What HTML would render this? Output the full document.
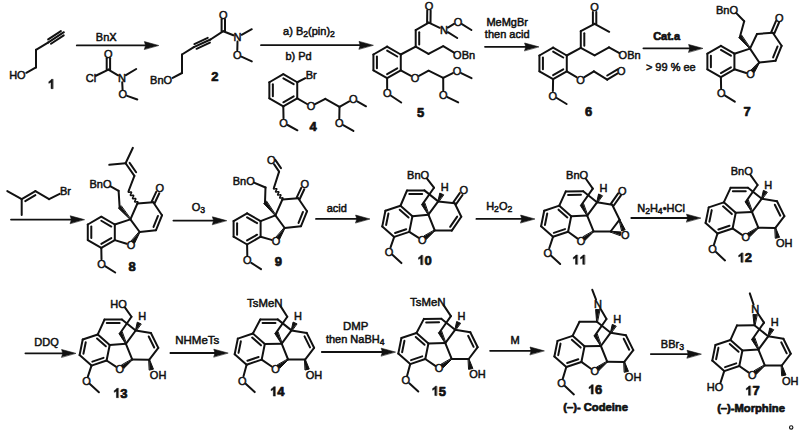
<!DOCTYPE html>
<html><head><meta charset="utf-8"><style>
html,body{margin:0;padding:0;background:#fff;}
svg{display:block;}
text{font-family:"Liberation Sans",sans-serif;fill:#111;stroke:#111;stroke-width:0.5px;}
text.b{stroke-width:0.7px;}
</style></head><body>
<svg width="800" height="438" viewBox="0 0 800 438">
<rect width="800" height="438" fill="#fff"/>
<g stroke="#111" fill="#111" stroke-linecap="round" stroke-linejoin="round">
<text x="17.4" y="78.94" font-size="11" text-anchor="middle">HO</text>
<line x1="26.32" y1="72.77" x2="36" y2="67.4" stroke-width="2.0"/>
<line x1="36" y1="67.4" x2="36" y2="49.8" stroke-width="2.0"/>
<line x1="36" y1="49.8" x2="48" y2="42.6" stroke-width="2.0"/>
<line x1="48" y1="42.6" x2="63.9" y2="32.2" stroke-width="2.0"/>
<line x1="51.01" y1="43.74" x2="63.73" y2="35.42" stroke-width="2.0"/>
<line x1="48.17" y1="39.38" x2="60.89" y2="31.06" stroke-width="2.0"/>
<path d="M52.83,88.65 L51.04,88.65 L51.04,82.15 L48.83,83.35 L48.83,81.63 L50.48,80.62 L51.4,79.35 L52.83,79.35Z" stroke-width="0.5"/>
<line x1="76.8" y1="45.4" x2="146.4" y2="45.4" stroke-width="1.8"/>
<polygon stroke-width="0.6" points="158.4,45.4 144.4,41.6 145.6,45.4 144.4,49.2"/>
<text x="106.2" y="40.74" font-size="11" text-anchor="middle">BnX</text>
<text x="108.4" y="57.54" font-size="11" text-anchor="middle">O</text>
<text x="90.9" y="82.14" font-size="11" text-anchor="middle">Cl</text>
<text x="122" y="81.54" font-size="11" text-anchor="middle">N</text>
<text x="122.8" y="98.24" font-size="11" text-anchor="middle">O</text>
<line x1="110.1" y1="69.6" x2="110.1" y2="58.2" stroke-width="2.0"/>
<line x1="106.7" y1="69.6" x2="106.7" y2="58.2" stroke-width="2.0"/>
<line x1="108.4" y1="69.6" x2="95.84" y2="75.77" stroke-width="2.0"/>
<line x1="108.4" y1="69.6" x2="118.04" y2="75.27" stroke-width="2.0"/>
<line x1="125.93" y1="75.22" x2="136.2" y2="69" stroke-width="2.0"/>
<line x1="122.22" y1="82.19" x2="122.58" y2="89.71" stroke-width="2.0"/>
<line x1="127.13" y1="95.85" x2="137.3" y2="99.5" stroke-width="2.0"/>
<text x="161.1" y="83.94" font-size="11" text-anchor="middle">BnO</text>
<line x1="172.68" y1="77.87" x2="182" y2="73" stroke-width="2.0"/>
<line x1="182" y1="73" x2="182" y2="54.5" stroke-width="2.0"/>
<line x1="182" y1="54.5" x2="193.8" y2="47.2" stroke-width="2.0"/>
<line x1="193.8" y1="47.2" x2="210.5" y2="39.5" stroke-width="2.0"/>
<line x1="196.56" y1="48.79" x2="209.92" y2="42.63" stroke-width="2.0"/>
<line x1="194.38" y1="44.07" x2="207.74" y2="37.91" stroke-width="2.0"/>
<line x1="210.5" y1="39.5" x2="223.3" y2="31.2" stroke-width="2.0"/>
<text x="223.3" y="18.54" font-size="11" text-anchor="middle">O</text>
<line x1="225" y1="31.2" x2="225" y2="19.2" stroke-width="2.0"/>
<line x1="221.6" y1="31.2" x2="221.6" y2="19.2" stroke-width="2.0"/>
<text x="237.6" y="40.94" font-size="11" text-anchor="middle">N</text>
<line x1="223.3" y1="31.2" x2="233.34" y2="35.27" stroke-width="2.0"/>
<line x1="241.63" y1="34.79" x2="251.8" y2="29.2" stroke-width="2.0"/>
<text x="237.2" y="58.74" font-size="11" text-anchor="middle">O</text>
<line x1="237.5" y1="41.6" x2="237.3" y2="50.2" stroke-width="2.0"/>
<line x1="241.39" y1="56.69" x2="251.8" y2="61.4" stroke-width="2.0"/>
<text x="211.19" y="80.95" font-size="13" font-weight="bold" class="b">2</text>
<line x1="261" y1="45.2" x2="361" y2="45.2" stroke-width="1.8"/>
<polygon stroke-width="0.6" points="373,45.2 359,41.4 360.2,45.2 359,49"/>
<text x="309" y="34.94" font-size="11" text-anchor="middle">a) B<tspan font-size="8.6" dy="1.8">2</tspan><tspan dy="-1.8">(pin)</tspan><tspan font-size="8.6" dy="1.8">2</tspan></text>
<text x="298.6" y="60.24" font-size="11" text-anchor="middle">b) Pd</text>
<line x1="283.3" y1="74.2" x2="297.24" y2="82.25" stroke-width="2.0"/>
<line x1="283.36" y1="78.28" x2="293.68" y2="84.23" stroke-width="2.0"/>
<line x1="297.24" y1="82.25" x2="297.24" y2="98.35" stroke-width="2.0"/>
<line x1="297.24" y1="98.35" x2="283.3" y2="106.4" stroke-width="2.0"/>
<line x1="293.68" y1="96.37" x2="283.36" y2="102.32" stroke-width="2.0"/>
<line x1="283.3" y1="106.4" x2="269.36" y2="98.35" stroke-width="2.0"/>
<line x1="269.36" y1="98.35" x2="269.36" y2="82.25" stroke-width="2.0"/>
<line x1="272.86" y1="96.26" x2="272.86" y2="84.34" stroke-width="2.0"/>
<line x1="269.36" y1="82.25" x2="283.3" y2="74.2" stroke-width="2.0"/>
<text x="311.2" y="79.24" font-size="11" text-anchor="middle">Br</text>
<line x1="297.24" y1="82.25" x2="305.38" y2="78.2" stroke-width="2.0"/>
<text x="311" y="110.24" font-size="11" text-anchor="middle">O</text>
<line x1="297.24" y1="98.35" x2="307.02" y2="104" stroke-width="2.0"/>
<line x1="315.09" y1="104.19" x2="325.3" y2="98.9" stroke-width="2.0"/>
<line x1="325.3" y1="98.9" x2="339.5" y2="106.8" stroke-width="2.0"/>
<text x="353.2" y="103.14" font-size="11" text-anchor="middle">O</text>
<line x1="339.5" y1="106.8" x2="349.18" y2="101.43" stroke-width="2.0"/>
<line x1="357.22" y1="101.43" x2="366" y2="106.3" stroke-width="2.0"/>
<text x="339.2" y="126.94" font-size="11" text-anchor="middle">O</text>
<line x1="339.5" y1="106.8" x2="339.29" y2="118.4" stroke-width="2.0"/>
<line x1="343.22" y1="125.24" x2="353.4" y2="130.9" stroke-width="2.0"/>
<text x="283.6" y="126.74" font-size="11" text-anchor="middle">O</text>
<line x1="283.3" y1="106.4" x2="283.52" y2="118.2" stroke-width="2.0"/>
<line x1="287.64" y1="125" x2="297.4" y2="130.3" stroke-width="2.0"/>
<text x="309.39" y="131.45" font-size="13" font-weight="bold" class="b">4</text>
<line x1="387.1" y1="46.6" x2="400.78" y2="54.5" stroke-width="2.0"/>
<line x1="387.13" y1="50.66" x2="397.25" y2="56.5" stroke-width="2.0"/>
<line x1="400.78" y1="54.5" x2="400.78" y2="70.3" stroke-width="2.0"/>
<line x1="400.78" y1="70.3" x2="387.1" y2="78.2" stroke-width="2.0"/>
<line x1="397.25" y1="68.3" x2="387.13" y2="74.14" stroke-width="2.0"/>
<line x1="387.1" y1="78.2" x2="373.42" y2="70.3" stroke-width="2.0"/>
<line x1="373.42" y1="70.3" x2="373.42" y2="54.5" stroke-width="2.0"/>
<line x1="376.92" y1="68.25" x2="376.92" y2="56.55" stroke-width="2.0"/>
<line x1="373.42" y1="54.5" x2="387.1" y2="46.6" stroke-width="2.0"/>
<text x="429" y="9.74" font-size="11" text-anchor="middle">O</text>
<text x="443.9" y="33.74" font-size="11" text-anchor="middle">N</text>
<text x="458" y="25.64" font-size="11" text-anchor="middle">O</text>
<line x1="400.78" y1="54.5" x2="415.7" y2="46.6" stroke-width="2.0"/>
<line x1="415.7" y1="46.6" x2="415.7" y2="30.1" stroke-width="2.0"/>
<line x1="419.2" y1="44.45" x2="419.2" y2="32.25" stroke-width="2.0"/>
<line x1="415.7" y1="30.1" x2="428.8" y2="22.6" stroke-width="2.0"/>
<line x1="430.5" y1="22.62" x2="430.65" y2="10.42" stroke-width="2.0"/>
<line x1="427.1" y1="22.58" x2="427.25" y2="10.38" stroke-width="2.0"/>
<line x1="428.8" y1="22.6" x2="439.75" y2="27.82" stroke-width="2.0"/>
<line x1="447.82" y1="32.21" x2="457.2" y2="38" stroke-width="2.0"/>
<line x1="447.89" y1="27.51" x2="454.01" y2="23.99" stroke-width="2.0"/>
<line x1="461.91" y1="24.12" x2="471.4" y2="30" stroke-width="2.0"/>
<line x1="415.7" y1="46.6" x2="428.5" y2="53.9" stroke-width="2.0"/>
<line x1="428.5" y1="53.9" x2="443.2" y2="46.2" stroke-width="2.0"/>
<line x1="443.2" y1="46.2" x2="454.05" y2="52.65" stroke-width="2.0"/>
<text x="464.1" y="58.94" font-size="11" text-anchor="middle">OBn</text>
<text x="415" y="81.94" font-size="11" text-anchor="middle">O</text>
<text x="457" y="74.94" font-size="11" text-anchor="middle">O</text>
<text x="443.3" y="98.94" font-size="11" text-anchor="middle">O</text>
<line x1="400.78" y1="70.3" x2="410.96" y2="75.81" stroke-width="2.0"/>
<line x1="419.05" y1="75.82" x2="428.6" y2="70.7" stroke-width="2.0"/>
<line x1="428.6" y1="70.7" x2="443.2" y2="77.8" stroke-width="2.0"/>
<line x1="443.2" y1="77.8" x2="452.87" y2="73.03" stroke-width="2.0"/>
<line x1="461.12" y1="73.05" x2="471.5" y2="78.2" stroke-width="2.0"/>
<line x1="443.2" y1="77.8" x2="443.27" y2="90.4" stroke-width="2.0"/>
<line x1="447.42" y1="97.05" x2="458.2" y2="102.4" stroke-width="2.0"/>
<text x="387.2" y="97.14" font-size="11" text-anchor="middle">O</text>
<line x1="387.1" y1="78.2" x2="387.17" y2="88.6" stroke-width="2.0"/>
<line x1="391.03" y1="95.75" x2="401.2" y2="102.5" stroke-width="2.0"/>
<text x="417.09" y="116.65" font-size="13" font-weight="bold" class="b">5</text>
<line x1="485" y1="46.8" x2="526.6" y2="46.8" stroke-width="1.8"/>
<polygon stroke-width="0.6" points="538.6,46.8 524.6,43 525.8,46.8 524.6,50.6"/>
<text x="507.2" y="25.74" font-size="11" text-anchor="middle">MeMgBr</text>
<text x="507.2" y="38.34" font-size="11" text-anchor="middle">then acid</text>
<line x1="553.1" y1="47.6" x2="566.78" y2="55.5" stroke-width="2.0"/>
<line x1="553.13" y1="51.66" x2="563.25" y2="57.5" stroke-width="2.0"/>
<line x1="566.78" y1="55.5" x2="566.78" y2="71.3" stroke-width="2.0"/>
<line x1="566.78" y1="71.3" x2="553.1" y2="79.2" stroke-width="2.0"/>
<line x1="563.25" y1="69.3" x2="553.13" y2="75.14" stroke-width="2.0"/>
<line x1="553.1" y1="79.2" x2="539.42" y2="71.3" stroke-width="2.0"/>
<line x1="539.42" y1="71.3" x2="539.42" y2="55.5" stroke-width="2.0"/>
<line x1="542.92" y1="69.25" x2="542.92" y2="57.55" stroke-width="2.0"/>
<line x1="539.42" y1="55.5" x2="553.1" y2="47.6" stroke-width="2.0"/>
<text x="594.6" y="11.34" font-size="11" text-anchor="middle">O</text>
<line x1="566.78" y1="55.5" x2="580.8" y2="47.8" stroke-width="2.0"/>
<line x1="580.8" y1="47.8" x2="580.8" y2="31.2" stroke-width="2.0"/>
<line x1="584.3" y1="45.64" x2="584.3" y2="33.36" stroke-width="2.0"/>
<line x1="580.8" y1="31.2" x2="594.6" y2="23.8" stroke-width="2.0"/>
<line x1="596.3" y1="23.8" x2="596.3" y2="12" stroke-width="2.0"/>
<line x1="592.9" y1="23.8" x2="592.9" y2="12" stroke-width="2.0"/>
<line x1="594.6" y1="23.8" x2="609.2" y2="31.8" stroke-width="2.0"/>
<line x1="580.8" y1="47.8" x2="594.6" y2="55.3" stroke-width="2.0"/>
<line x1="594.6" y1="55.3" x2="609" y2="47.4" stroke-width="2.0"/>
<line x1="609" y1="47.4" x2="619.45" y2="53.02" stroke-width="2.0"/>
<text x="629.6" y="59.14" font-size="11" text-anchor="middle">OBn</text>
<text x="580.5" y="83.54" font-size="11" text-anchor="middle">O</text>
<text x="621.2" y="75.14" font-size="11" text-anchor="middle">O</text>
<line x1="566.78" y1="71.3" x2="576.56" y2="77.22" stroke-width="2.0"/>
<line x1="584.41" y1="77.18" x2="593.9" y2="71.3" stroke-width="2.0"/>
<line x1="593.9" y1="71.3" x2="607.2" y2="79.6" stroke-width="2.0"/>
<line x1="607.2" y1="79.6" x2="617.26" y2="73.57" stroke-width="2.0"/>
<line x1="607.22" y1="75.51" x2="617.58" y2="69.29" stroke-width="2.0"/>
<text x="552.8" y="99.54" font-size="11" text-anchor="middle">O</text>
<line x1="553.1" y1="79.2" x2="552.88" y2="91" stroke-width="2.0"/>
<line x1="556.73" y1="97.99" x2="566.6" y2="104" stroke-width="2.0"/>
<text x="585.09" y="115.85" font-size="13" font-weight="bold" class="b">6</text>
<line x1="643.4" y1="48.3" x2="690.6" y2="48.3" stroke-width="1.8"/>
<polygon stroke-width="0.6" points="702.6,48.3 688.6,44.5 689.8,48.3 688.6,52.1"/>
<text x="666.6" y="40.34" font-size="11" font-weight="bold" class="b" text-anchor="middle">Cat.a</text>
<text x="670.8" y="71.04" font-size="11" text-anchor="middle">&gt; 99 % ee</text>
<line x1="720.9" y1="45.9" x2="734.41" y2="53.7" stroke-width="2.0"/>
<line x1="720.91" y1="49.95" x2="730.9" y2="55.72" stroke-width="2.0"/>
<line x1="734.41" y1="53.7" x2="734.41" y2="69.3" stroke-width="2.0"/>
<line x1="734.41" y1="69.3" x2="720.9" y2="77.1" stroke-width="2.0"/>
<line x1="730.9" y1="67.28" x2="720.91" y2="73.05" stroke-width="2.0"/>
<line x1="720.9" y1="77.1" x2="707.39" y2="69.3" stroke-width="2.0"/>
<line x1="707.39" y1="69.3" x2="707.39" y2="53.7" stroke-width="2.0"/>
<line x1="710.89" y1="67.27" x2="710.89" y2="55.73" stroke-width="2.0"/>
<line x1="707.39" y1="53.7" x2="720.9" y2="45.9" stroke-width="2.0"/>
<text x="750.6" y="78.34" font-size="11" text-anchor="middle">O</text>
<line x1="750" y1="48.6" x2="734.41" y2="53.7" stroke-width="2.0"/>
<line x1="734.41" y1="69.3" x2="746.21" y2="73.02" stroke-width="2.0"/>
<polygon points="759.07,62.33 759.53,62.67 754.26,72.62 751.19,70.37"/>
<line x1="750" y1="48.6" x2="759.3" y2="62.5" stroke-width="2.0"/>
<line x1="759.3" y1="62.5" x2="775.6" y2="60.7" stroke-width="2.0"/>
<line x1="775.6" y1="60.7" x2="781.6" y2="45.8" stroke-width="2.0"/>
<line x1="773.13" y1="57.46" x2="777.57" y2="46.43" stroke-width="2.0"/>
<line x1="781.6" y1="45.8" x2="772.8" y2="32.8" stroke-width="2.0"/>
<line x1="772.8" y1="32.8" x2="757" y2="34" stroke-width="2.0"/>
<line x1="757" y1="34" x2="750" y2="48.6" stroke-width="2.0"/>
<text x="779.3" y="21.54" font-size="11" text-anchor="middle">O</text>
<line x1="774.36" y1="33.47" x2="779.05" y2="22.5" stroke-width="2.0"/>
<line x1="771.24" y1="32.13" x2="775.93" y2="21.16" stroke-width="2.0"/>
<text x="721.2" y="97.04" font-size="11" text-anchor="middle">O</text>
<line x1="720.9" y1="77.1" x2="721.11" y2="88.5" stroke-width="2.0"/>
<line x1="725.09" y1="95.56" x2="734.8" y2="101.7" stroke-width="2.0"/>
<polygon points="750.2,48.44 749.8,48.76 738.69,37.48 741.31,35.32"/>
<line x1="740" y1="36.4" x2="744.2" y2="21.2" stroke-width="2.0"/>
<line x1="744.2" y1="21.2" x2="736.31" y2="13.1" stroke-width="2.0"/>
<text x="727" y="13.74" font-size="11" text-anchor="middle">BnO</text>
<text x="743.39" y="115.95" font-size="13" font-weight="bold" class="b">7</text>
<line x1="7.3" y1="191.1" x2="21.7" y2="199.1" stroke-width="2.0"/>
<line x1="21.7" y1="199.1" x2="21.7" y2="215.1" stroke-width="2.0"/>
<line x1="21.7" y1="199.1" x2="35.4" y2="191.1" stroke-width="2.0"/>
<line x1="25.25" y1="201.08" x2="35.38" y2="195.16" stroke-width="2.0"/>
<line x1="35.4" y1="191.1" x2="49.1" y2="199.1" stroke-width="2.0"/>
<line x1="49.1" y1="199.1" x2="59.67" y2="193.88" stroke-width="2.0"/>
<text x="65.5" y="194.94" font-size="11" text-anchor="middle">Br</text>
<line x1="11" y1="219.6" x2="72.2" y2="219.6" stroke-width="1.8"/>
<polygon stroke-width="0.6" points="84.2,219.6 70.2,215.8 71.4,219.6 70.2,223.4"/>
<line x1="101.3" y1="216.7" x2="114.81" y2="224.5" stroke-width="2.0"/>
<line x1="101.31" y1="220.75" x2="111.3" y2="226.52" stroke-width="2.0"/>
<line x1="114.81" y1="224.5" x2="114.81" y2="240.1" stroke-width="2.0"/>
<line x1="114.81" y1="240.1" x2="101.3" y2="247.9" stroke-width="2.0"/>
<line x1="111.3" y1="238.08" x2="101.31" y2="243.85" stroke-width="2.0"/>
<line x1="101.3" y1="247.9" x2="87.79" y2="240.1" stroke-width="2.0"/>
<line x1="87.79" y1="240.1" x2="87.79" y2="224.5" stroke-width="2.0"/>
<line x1="91.29" y1="238.07" x2="91.29" y2="226.53" stroke-width="2.0"/>
<line x1="87.79" y1="224.5" x2="101.3" y2="216.7" stroke-width="2.0"/>
<text x="131" y="249.14" font-size="11" text-anchor="middle">O</text>
<line x1="130.4" y1="219.4" x2="114.81" y2="224.5" stroke-width="2.0"/>
<line x1="114.81" y1="240.1" x2="126.61" y2="243.82" stroke-width="2.0"/>
<polygon points="139.46,231.84 139.94,232.16 134.57,243.24 131.39,241.15"/>
<line x1="130.4" y1="219.4" x2="139.7" y2="232" stroke-width="2.0"/>
<line x1="139.7" y1="232" x2="156" y2="230.2" stroke-width="2.0"/>
<line x1="156" y1="230.2" x2="162" y2="215.3" stroke-width="2.0"/>
<line x1="153.53" y1="226.96" x2="157.97" y2="215.93" stroke-width="2.0"/>
<line x1="162" y1="215.3" x2="153.2" y2="202.3" stroke-width="2.0"/>
<line x1="153.2" y1="202.3" x2="137.4" y2="203.5" stroke-width="2.0"/>
<line x1="137.4" y1="203.5" x2="130.4" y2="219.4" stroke-width="2.0"/>
<text x="159.7" y="192.34" font-size="11" text-anchor="middle">O</text>
<line x1="154.74" y1="203.02" x2="159.29" y2="193.29" stroke-width="2.0"/>
<line x1="151.66" y1="201.58" x2="156.21" y2="191.85" stroke-width="2.0"/>
<text x="101.6" y="267.84" font-size="11" text-anchor="middle">O</text>
<line x1="101.3" y1="247.9" x2="101.51" y2="259.3" stroke-width="2.0"/>
<line x1="105.49" y1="266.36" x2="115.2" y2="272.5" stroke-width="2.0"/>
<polygon points="130.59,219.23 130.21,219.57 118.32,208.12 120.88,205.88"/>
<line x1="119.6" y1="207" x2="118.6" y2="190.8" stroke-width="2.0"/>
<line x1="118.6" y1="190.8" x2="110.6" y2="186.27" stroke-width="2.0"/>
<text x="100.5" y="187.94" font-size="11" text-anchor="middle">BnO</text>
<polyline fill="none" stroke-width="1.5" points="137.4,203.5 137.7,202.99 137.92,202.53 138,202.17 137.9,201.92 137.62,201.8 137.18,201.78 136.62,201.83 136.03,201.92 135.47,201.97 135.03,201.95 134.75,201.83 134.65,201.58 134.73,201.22 134.95,200.76 135.25,200.25 135.55,199.74 135.77,199.28 135.85,198.92 135.75,198.67 135.47,198.55 135.03,198.53 134.47,198.58 133.88,198.67 133.32,198.72 132.88,198.7 132.6,198.58 132.5,198.33 132.58,197.97 132.8,197.51 133.1,197 133.4,196.49 133.62,196.03 133.7,195.67 133.6,195.42 133.32,195.3 132.88,195.28 132.32,195.33 131.73,195.42 131.17,195.47 130.73,195.45 130.45,195.33 130.35,195.08 130.43,194.72 130.65,194.26 130.95,193.75 131.25,193.24 131.47,192.78 131.55,192.42 131.45,192.17 131.17,192.05 130.73,192.03 130.17,192.08 129.58,192.17 129.02,192.22 128.58,192.2 128.3,192.08 128.2,191.83 128.28,191.47 128.5,191.01 128.8,190.5"/>
<line x1="128.8" y1="190.5" x2="134.4" y2="175.9" stroke-width="2.0"/>
<line x1="134.4" y1="175.9" x2="125.6" y2="163.3" stroke-width="2.0"/>
<line x1="136.13" y1="172.26" x2="129.61" y2="162.93" stroke-width="2.0"/>
<line x1="125.6" y1="163.3" x2="109.3" y2="164.8" stroke-width="2.0"/>
<line x1="125.6" y1="163.3" x2="132.9" y2="147.8" stroke-width="2.0"/>
<text x="128.59" y="270.65" font-size="13" font-weight="bold" class="b">8</text>
<line x1="173.4" y1="220.6" x2="214.4" y2="220.6" stroke-width="1.8"/>
<polygon stroke-width="0.6" points="226.4,220.6 212.4,216.8 213.6,220.6 212.4,224.4"/>
<text x="198.3" y="211.34" font-size="11" text-anchor="middle">O<tspan font-size="8.6" dy="1.8">3</tspan></text>
<line x1="247.1" y1="213.3" x2="260.61" y2="221.1" stroke-width="2.0"/>
<line x1="247.11" y1="217.35" x2="257.1" y2="223.12" stroke-width="2.0"/>
<line x1="260.61" y1="221.1" x2="260.61" y2="236.7" stroke-width="2.0"/>
<line x1="260.61" y1="236.7" x2="247.1" y2="244.5" stroke-width="2.0"/>
<line x1="257.1" y1="234.68" x2="247.11" y2="240.45" stroke-width="2.0"/>
<line x1="247.1" y1="244.5" x2="233.59" y2="236.7" stroke-width="2.0"/>
<line x1="233.59" y1="236.7" x2="233.59" y2="221.1" stroke-width="2.0"/>
<line x1="237.09" y1="234.67" x2="237.09" y2="223.13" stroke-width="2.0"/>
<line x1="233.59" y1="221.1" x2="247.1" y2="213.3" stroke-width="2.0"/>
<text x="276" y="245.14" font-size="11" text-anchor="middle">O</text>
<line x1="275.4" y1="215.4" x2="260.61" y2="221.1" stroke-width="2.0"/>
<line x1="260.61" y1="236.7" x2="271.58" y2="239.91" stroke-width="2.0"/>
<polygon points="284.46,227.84 284.94,228.16 279.57,239.24 276.39,237.15"/>
<line x1="275.4" y1="215.4" x2="284.7" y2="228" stroke-width="2.0"/>
<line x1="284.7" y1="228" x2="301" y2="226.2" stroke-width="2.0"/>
<line x1="301" y1="226.2" x2="307" y2="211.3" stroke-width="2.0"/>
<line x1="298.53" y1="222.96" x2="302.97" y2="211.93" stroke-width="2.0"/>
<line x1="307" y1="211.3" x2="298.2" y2="198.3" stroke-width="2.0"/>
<line x1="298.2" y1="198.3" x2="282.4" y2="199.5" stroke-width="2.0"/>
<line x1="282.4" y1="199.5" x2="275.4" y2="215.4" stroke-width="2.0"/>
<text x="304.7" y="188.34" font-size="11" text-anchor="middle">O</text>
<line x1="299.74" y1="199.02" x2="304.29" y2="189.29" stroke-width="2.0"/>
<line x1="296.66" y1="197.58" x2="301.21" y2="187.85" stroke-width="2.0"/>
<text x="247.4" y="264.44" font-size="11" text-anchor="middle">O</text>
<line x1="247.1" y1="244.5" x2="247.31" y2="255.9" stroke-width="2.0"/>
<line x1="251.29" y1="262.96" x2="261" y2="269.1" stroke-width="2.0"/>
<polygon points="275.6,215.24 275.2,215.56 263.67,203.46 266.33,201.34"/>
<line x1="265" y1="202.4" x2="265.5" y2="187.5" stroke-width="2.0"/>
<line x1="265.5" y1="187.5" x2="254.04" y2="182.68" stroke-width="2.0"/>
<text x="243.7" y="184.84" font-size="11" text-anchor="middle">BnO</text>
<polyline fill="none" stroke-width="1.5" points="282.4,199.5 282.7,199 282.92,198.55 283.01,198.19 282.92,197.96 282.64,197.85 282.2,197.85 281.66,197.92 281.07,198.03 280.52,198.1 280.09,198.1 279.81,197.99 279.72,197.76 279.8,197.4 280.03,196.95 280.32,196.45 280.62,195.95 280.85,195.5 280.93,195.14 280.84,194.91 280.56,194.8 280.13,194.8 279.58,194.87 278.99,194.98 278.45,195.05 278.01,195.05 277.73,194.94 277.64,194.71 277.73,194.35 277.95,193.9 278.25,193.4 278.55,192.9 278.77,192.45 278.86,192.09 278.77,191.86 278.49,191.75 278.05,191.75 277.51,191.82 276.92,191.93 276.37,192 275.94,192 275.66,191.89 275.57,191.66 275.65,191.3 275.88,190.85 276.17,190.35 276.47,189.85 276.7,189.4 276.78,189.04 276.69,188.81 276.41,188.7 275.98,188.7 275.43,188.77 274.84,188.88 274.3,188.95 273.86,188.95 273.58,188.84 273.49,188.61 273.58,188.25 273.8,187.8 274.1,187.3"/>
<line x1="274.1" y1="187.3" x2="279.1" y2="171.6" stroke-width="2.0"/>
<line x1="279.1" y1="171.6" x2="274.01" y2="164.19" stroke-width="2.0"/>
<line x1="280.98" y1="168.16" x2="275.29" y2="159.87" stroke-width="2.0"/>
<text x="271.4" y="164.34" font-size="11" text-anchor="middle">O</text>
<text x="274.69" y="265.85" font-size="13" font-weight="bold" class="b">9</text>
<line x1="316" y1="218.9" x2="357.6" y2="218.9" stroke-width="1.8"/>
<polygon stroke-width="0.6" points="369.6,218.9 355.6,215.1 356.8,218.9 355.6,222.7"/>
<text x="336.8" y="211.84" font-size="11" text-anchor="middle">acid</text>
<line x1="476.4" y1="218.9" x2="522.6" y2="218.9" stroke-width="1.8"/>
<polygon stroke-width="0.6" points="534.6,218.9 520.6,215.1 521.8,218.9 520.6,222.7"/>
<text x="499.2" y="209.84" font-size="11" text-anchor="middle">H<tspan font-size="8.6" dy="1.8">2</tspan><tspan dy="-1.8">O</tspan><tspan font-size="8.6" dy="1.8">2</tspan></text>
<line x1="631.3" y1="218" x2="688.5" y2="218" stroke-width="1.8"/>
<polygon stroke-width="0.6" points="700.5,218 686.5,214.2 687.7,218 686.5,221.8"/>
<text x="661" y="212.34" font-size="11" text-anchor="middle">N<tspan font-size="8.6" dy="1.8">2</tspan><tspan dy="-1.8">H</tspan><tspan font-size="8.6" dy="1.8">4</tspan><tspan dy="-1.8">•HCl</tspan></text>
<line x1="400.49" y1="205.74" x2="412.42" y2="216.26" stroke-width="2.0"/>
<line x1="399.73" y1="209.74" x2="408.55" y2="217.52" stroke-width="2.0"/>
<line x1="412.42" y1="216.26" x2="409.28" y2="231.84" stroke-width="2.0"/>
<line x1="409.28" y1="231.84" x2="394.21" y2="236.92" stroke-width="2.0"/>
<line x1="406.2" y1="229.19" x2="395.05" y2="232.94" stroke-width="2.0"/>
<line x1="394.21" y1="236.92" x2="382.28" y2="226.4" stroke-width="2.0"/>
<line x1="382.28" y1="226.4" x2="385.42" y2="210.82" stroke-width="2.0"/>
<line x1="386.12" y1="225.07" x2="388.45" y2="213.53" stroke-width="2.0"/>
<line x1="385.42" y1="210.82" x2="400.49" y2="205.74" stroke-width="2.0"/>
<line x1="400.49" y1="205.74" x2="407" y2="190.5" stroke-width="2.0"/>
<line x1="407" y1="190.5" x2="424.4" y2="190.4" stroke-width="2.0"/>
<line x1="409.28" y1="193.99" x2="422.16" y2="193.91" stroke-width="2.0"/>
<line x1="424.4" y1="190.4" x2="438.2" y2="201.4" stroke-width="2.0"/>
<line x1="428.4" y1="214.7" x2="412.42" y2="216.26" stroke-width="2.0"/>
<line x1="428.4" y1="214.7" x2="438.2" y2="201.4" stroke-width="2.0"/>
<line x1="428.4" y1="214.7" x2="434.8" y2="230.5" stroke-width="2.0"/>
<text x="422.2" y="244.04" font-size="11" text-anchor="middle">O</text>
<line x1="409.28" y1="231.84" x2="418.32" y2="237.62" stroke-width="2.0"/>
<polygon points="434.63,230.27 434.97,230.73 426.37,239.31 424.07,236.29"/>
<polygon points="438.47,201.52 437.93,201.28 439.78,193.07 443.42,194.73"/>
<text x="444.7" y="191.24" font-size="11" text-anchor="middle">H</text>
<polygon points="428.63,214.59 428.17,214.81 421.38,204.35 424.42,202.85"/>
<line x1="422.9" y1="203.6" x2="434" y2="187.7" stroke-width="2.0"/>
<line x1="434" y1="187.7" x2="427.01" y2="178.64" stroke-width="2.0"/>
<text x="418.1" y="178.94" font-size="11" text-anchor="middle">BnO</text>
<line x1="438.2" y1="201.4" x2="454.7" y2="203.2" stroke-width="2.0"/>
<line x1="454.7" y1="203.2" x2="461.3" y2="216.8" stroke-width="2.0"/>
<line x1="461.3" y1="216.8" x2="451.8" y2="230.6" stroke-width="2.0"/>
<line x1="457.18" y1="216.61" x2="450.15" y2="226.82" stroke-width="2.0"/>
<line x1="451.8" y1="230.6" x2="434.8" y2="230.5" stroke-width="2.0"/>
<text x="463.8" y="194.24" font-size="11" text-anchor="middle">O</text>
<line x1="456.09" y1="204.18" x2="462.54" y2="195.04" stroke-width="2.0"/>
<line x1="453.31" y1="202.22" x2="459.76" y2="193.08" stroke-width="2.0"/>
<text x="389" y="255.64" font-size="11" text-anchor="middle">O</text>
<line x1="394.21" y1="236.92" x2="390.53" y2="247.36" stroke-width="2.0"/>
<line x1="392.39" y1="254.81" x2="401.4" y2="263.1" stroke-width="2.0"/>
<path d="M422.52,264.65 L420.73,264.65 L420.73,258.15 L418.52,259.35 L418.52,257.63 L420.17,256.62 L421.09,255.35 L422.52,255.35Z" stroke-width="0.5"/>
<text x="424.6" y="264.65" font-size="13" font-weight="bold" class="b">0</text>
<line x1="559.29" y1="205.64" x2="571.22" y2="216.16" stroke-width="2.0"/>
<line x1="558.53" y1="209.64" x2="567.35" y2="217.42" stroke-width="2.0"/>
<line x1="571.22" y1="216.16" x2="568.08" y2="231.74" stroke-width="2.0"/>
<line x1="568.08" y1="231.74" x2="553.01" y2="236.82" stroke-width="2.0"/>
<line x1="565" y1="229.09" x2="553.85" y2="232.84" stroke-width="2.0"/>
<line x1="553.01" y1="236.82" x2="541.08" y2="226.3" stroke-width="2.0"/>
<line x1="541.08" y1="226.3" x2="544.22" y2="210.72" stroke-width="2.0"/>
<line x1="544.92" y1="224.97" x2="547.25" y2="213.43" stroke-width="2.0"/>
<line x1="544.22" y1="210.72" x2="559.29" y2="205.64" stroke-width="2.0"/>
<line x1="559.29" y1="205.64" x2="565.8" y2="191.4" stroke-width="2.0"/>
<line x1="565.8" y1="191.4" x2="583.2" y2="191.3" stroke-width="2.0"/>
<line x1="568.08" y1="194.89" x2="580.96" y2="194.81" stroke-width="2.0"/>
<line x1="583.2" y1="191.3" x2="597" y2="202.3" stroke-width="2.0"/>
<line x1="587.2" y1="215.6" x2="571.22" y2="216.16" stroke-width="2.0"/>
<line x1="587.2" y1="215.6" x2="597" y2="202.3" stroke-width="2.0"/>
<line x1="587.2" y1="215.6" x2="593.6" y2="231.4" stroke-width="2.0"/>
<text x="581" y="244.94" font-size="11" text-anchor="middle">O</text>
<line x1="568.08" y1="231.74" x2="577.26" y2="238.32" stroke-width="2.0"/>
<polygon points="593.43,231.17 593.77,231.63 585.17,240.21 582.87,237.19"/>
<polygon points="597.27,202.42 596.73,202.18 598.58,193.97 602.22,195.63"/>
<text x="603.5" y="192.14" font-size="11" text-anchor="middle">H</text>
<polygon points="587.43,215.49 586.97,215.71 580.18,205.25 583.22,203.75"/>
<line x1="581.7" y1="204.5" x2="592.8" y2="188.6" stroke-width="2.0"/>
<line x1="592.8" y1="188.6" x2="585.85" y2="178.76" stroke-width="2.0"/>
<text x="577.1" y="178.94" font-size="11" text-anchor="middle">BnO</text>
<line x1="597" y1="202.3" x2="612.2" y2="204.8" stroke-width="2.0"/>
<line x1="612.2" y1="204.8" x2="619.6" y2="219.7" stroke-width="2.0"/>
<line x1="619.6" y1="219.7" x2="610.6" y2="231.5" stroke-width="2.0"/>
<line x1="610.6" y1="231.5" x2="593.6" y2="231.4" stroke-width="2.0"/>
<text x="622.2" y="194.54" font-size="11" text-anchor="middle">O</text>
<line x1="613.59" y1="205.78" x2="620.94" y2="195.34" stroke-width="2.0"/>
<line x1="610.81" y1="203.82" x2="618.16" y2="193.38" stroke-width="2.0"/>
<text x="625.2" y="238.54" font-size="11" text-anchor="middle">O</text>
<polygon points="619.36,219.79 619.84,219.61 625.17,229.7 621.99,230.89"/>
<polygon points="610.55,231.75 610.65,231.25 621.05,231.98 620.35,235.31"/>
<text x="547.8" y="256.54" font-size="11" text-anchor="middle">O</text>
<line x1="553.01" y1="236.82" x2="549.24" y2="248.23" stroke-width="2.0"/>
<line x1="551.19" y1="255.71" x2="560.2" y2="264" stroke-width="2.0"/>
<path d="M577.32,264.35 L575.53,264.35 L575.53,257.85 L573.32,259.05 L573.32,257.33 L574.97,256.32 L575.89,255.05 L577.32,255.05Z" stroke-width="0.5"/>
<path d="M584.55,264.35 L582.75,264.35 L582.75,257.85 L580.54,259.05 L580.54,257.33 L582.19,256.32 L583.12,255.05 L584.55,255.05Z" stroke-width="0.5"/>
<line x1="723.79" y1="202.34" x2="735.72" y2="212.86" stroke-width="2.0"/>
<line x1="723.03" y1="206.34" x2="731.85" y2="214.12" stroke-width="2.0"/>
<line x1="735.72" y1="212.86" x2="732.58" y2="228.44" stroke-width="2.0"/>
<line x1="732.58" y1="228.44" x2="717.51" y2="233.52" stroke-width="2.0"/>
<line x1="729.5" y1="225.79" x2="718.35" y2="229.54" stroke-width="2.0"/>
<line x1="717.51" y1="233.52" x2="705.58" y2="223" stroke-width="2.0"/>
<line x1="705.58" y1="223" x2="708.72" y2="207.42" stroke-width="2.0"/>
<line x1="709.42" y1="221.67" x2="711.75" y2="210.13" stroke-width="2.0"/>
<line x1="708.72" y1="207.42" x2="723.79" y2="202.34" stroke-width="2.0"/>
<line x1="723.79" y1="202.34" x2="730.6" y2="187.8" stroke-width="2.0"/>
<line x1="730.6" y1="187.8" x2="748" y2="187.7" stroke-width="2.0"/>
<line x1="732.88" y1="191.29" x2="745.76" y2="191.21" stroke-width="2.0"/>
<line x1="748" y1="187.7" x2="761.8" y2="198.7" stroke-width="2.0"/>
<line x1="752" y1="212" x2="735.72" y2="212.86" stroke-width="2.0"/>
<line x1="752" y1="212" x2="761.8" y2="198.7" stroke-width="2.0"/>
<line x1="752" y1="212" x2="758.4" y2="227.8" stroke-width="2.0"/>
<text x="745.8" y="241.34" font-size="11" text-anchor="middle">O</text>
<line x1="732.58" y1="228.44" x2="741.99" y2="234.82" stroke-width="2.0"/>
<polygon points="758.23,227.57 758.57,228.03 749.97,236.61 747.67,233.59"/>
<polygon points="762.07,198.82 761.53,198.58 763.38,190.37 767.02,192.03"/>
<text x="768.3" y="188.54" font-size="11" text-anchor="middle">H</text>
<polygon points="752.23,211.89 751.77,212.11 744.98,201.65 748.02,200.15"/>
<line x1="746.5" y1="200.9" x2="757.6" y2="185" stroke-width="2.0"/>
<line x1="757.6" y1="185" x2="750.57" y2="175.15" stroke-width="2.0"/>
<text x="741.8" y="175.34" font-size="11" text-anchor="middle">BnO</text>
<line x1="761.8" y1="198.7" x2="777" y2="201.2" stroke-width="2.0"/>
<line x1="777" y1="201.2" x2="784.4" y2="216.1" stroke-width="2.0"/>
<line x1="774.83" y1="204.69" x2="780.3" y2="215.72" stroke-width="2.0"/>
<line x1="784.4" y1="216.1" x2="775.4" y2="227.9" stroke-width="2.0"/>
<line x1="775.4" y1="227.9" x2="758.4" y2="227.8" stroke-width="2.0"/>
<polygon points="775.11,227.97 775.69,227.83 779.55,237.37 775.65,238.23"/>
<text x="784.3" y="247.04" font-size="11" text-anchor="middle">OH</text>
<text x="712.6" y="252.94" font-size="11" text-anchor="middle">O</text>
<line x1="717.51" y1="233.52" x2="713.99" y2="244.61" stroke-width="2.0"/>
<line x1="715.99" y1="252.11" x2="725" y2="260.4" stroke-width="2.0"/>
<path d="M742.72,262.25 L740.93,262.25 L740.93,255.75 L738.72,256.95 L738.72,255.23 L740.37,254.22 L741.29,252.95 L742.72,252.95Z" stroke-width="0.5"/>
<text x="744.8" y="262.25" font-size="13" font-weight="bold" class="b">2</text>
<line x1="25.4" y1="353.3" x2="63.6" y2="353.3" stroke-width="1.8"/>
<polygon stroke-width="0.6" points="75.6,353.3 61.6,349.5 62.8,353.3 61.6,357.1"/>
<text x="46.5" y="346.14" font-size="11" text-anchor="middle">DDQ</text>
<line x1="97.79" y1="334.44" x2="109.72" y2="344.96" stroke-width="2.0"/>
<line x1="97.03" y1="338.44" x2="105.85" y2="346.22" stroke-width="2.0"/>
<line x1="109.72" y1="344.96" x2="106.58" y2="360.54" stroke-width="2.0"/>
<line x1="106.58" y1="360.54" x2="91.51" y2="365.62" stroke-width="2.0"/>
<line x1="103.5" y1="357.89" x2="92.35" y2="361.64" stroke-width="2.0"/>
<line x1="91.51" y1="365.62" x2="79.58" y2="355.1" stroke-width="2.0"/>
<line x1="79.58" y1="355.1" x2="82.72" y2="339.52" stroke-width="2.0"/>
<line x1="83.42" y1="353.77" x2="85.75" y2="342.23" stroke-width="2.0"/>
<line x1="82.72" y1="339.52" x2="97.79" y2="334.44" stroke-width="2.0"/>
<line x1="97.79" y1="334.44" x2="104.5" y2="319.6" stroke-width="2.0"/>
<line x1="104.5" y1="319.6" x2="121.9" y2="319.5" stroke-width="2.0"/>
<line x1="106.78" y1="323.09" x2="119.66" y2="323.01" stroke-width="2.0"/>
<line x1="121.9" y1="319.5" x2="135.7" y2="330.5" stroke-width="2.0"/>
<line x1="125.9" y1="343.8" x2="109.72" y2="344.96" stroke-width="2.0"/>
<line x1="125.9" y1="343.8" x2="135.7" y2="330.5" stroke-width="2.0"/>
<line x1="125.9" y1="343.8" x2="132.3" y2="359.6" stroke-width="2.0"/>
<text x="119.7" y="373.14" font-size="11" text-anchor="middle">O</text>
<line x1="106.58" y1="360.54" x2="115.86" y2="366.67" stroke-width="2.0"/>
<polygon points="132.13,359.37 132.47,359.83 123.87,368.41 121.57,365.39"/>
<polygon points="135.97,330.62 135.43,330.38 137.28,322.17 140.92,323.83"/>
<text x="142.2" y="320.34" font-size="11" text-anchor="middle">H</text>
<polygon points="126.13,343.69 125.67,343.91 118.88,333.45 121.92,331.95"/>
<line x1="120.4" y1="332.7" x2="131.5" y2="316.8" stroke-width="2.0"/>
<line x1="131.5" y1="316.8" x2="125.04" y2="307.57" stroke-width="2.0"/>
<text x="118.5" y="307.74" font-size="11" text-anchor="middle">HO</text>
<line x1="135.7" y1="330.5" x2="150.9" y2="333" stroke-width="2.0"/>
<line x1="150.9" y1="333" x2="158.3" y2="347.9" stroke-width="2.0"/>
<line x1="148.73" y1="336.49" x2="154.2" y2="347.52" stroke-width="2.0"/>
<line x1="158.3" y1="347.9" x2="149.3" y2="359.7" stroke-width="2.0"/>
<line x1="149.3" y1="359.7" x2="132.3" y2="359.6" stroke-width="2.0"/>
<polygon points="149.01,359.77 149.59,359.63 153.45,369.17 149.55,370.03"/>
<text x="158.1" y="379.04" font-size="11" text-anchor="middle">OH</text>
<text x="86.5" y="384.74" font-size="11" text-anchor="middle">O</text>
<line x1="91.51" y1="365.62" x2="87.94" y2="376.43" stroke-width="2.0"/>
<line x1="89.89" y1="383.91" x2="98.9" y2="392.2" stroke-width="2.0"/>
<path d="M118.22,397.65 L116.43,397.65 L116.43,391.15 L114.22,392.35 L114.22,390.63 L115.87,389.62 L116.79,388.35 L118.22,388.35Z" stroke-width="0.5"/>
<text x="120.3" y="397.65" font-size="13" font-weight="bold" class="b">3</text>
<line x1="170.4" y1="353" x2="215.8" y2="353" stroke-width="1.8"/>
<polygon stroke-width="0.6" points="227.8,353 213.8,349.2 215,353 213.8,356.8"/>
<text x="197.3" y="343.92" font-size="11.5" text-anchor="middle">NHMeTs</text>
<line x1="252.89" y1="333.54" x2="264.82" y2="344.06" stroke-width="2.0"/>
<line x1="252.13" y1="337.54" x2="260.95" y2="345.32" stroke-width="2.0"/>
<line x1="264.82" y1="344.06" x2="261.68" y2="359.64" stroke-width="2.0"/>
<line x1="261.68" y1="359.64" x2="246.61" y2="364.72" stroke-width="2.0"/>
<line x1="258.6" y1="356.99" x2="247.45" y2="360.74" stroke-width="2.0"/>
<line x1="246.61" y1="364.72" x2="234.68" y2="354.2" stroke-width="2.0"/>
<line x1="234.68" y1="354.2" x2="237.82" y2="338.62" stroke-width="2.0"/>
<line x1="238.52" y1="352.87" x2="240.85" y2="341.33" stroke-width="2.0"/>
<line x1="237.82" y1="338.62" x2="252.89" y2="333.54" stroke-width="2.0"/>
<line x1="252.89" y1="333.54" x2="260.3" y2="319.5" stroke-width="2.0"/>
<line x1="260.3" y1="319.5" x2="277.7" y2="319.4" stroke-width="2.0"/>
<line x1="262.58" y1="322.99" x2="275.46" y2="322.91" stroke-width="2.0"/>
<line x1="277.7" y1="319.4" x2="291.5" y2="330.4" stroke-width="2.0"/>
<line x1="281.7" y1="343.7" x2="264.82" y2="344.06" stroke-width="2.0"/>
<line x1="281.7" y1="343.7" x2="291.5" y2="330.4" stroke-width="2.0"/>
<line x1="281.7" y1="343.7" x2="288.1" y2="359.5" stroke-width="2.0"/>
<text x="275.5" y="373.04" font-size="11" text-anchor="middle">O</text>
<line x1="261.68" y1="359.64" x2="271.7" y2="366.5" stroke-width="2.0"/>
<polygon points="287.93,359.27 288.27,359.73 279.67,368.31 277.37,365.29"/>
<polygon points="291.77,330.52 291.23,330.28 293.08,322.07 296.72,323.73"/>
<text x="298" y="320.24" font-size="11" text-anchor="middle">H</text>
<polygon points="281.93,343.59 281.47,343.81 274.68,333.35 277.72,331.85"/>
<line x1="276.2" y1="332.6" x2="287.3" y2="316.7" stroke-width="2.0"/>
<line x1="287.3" y1="316.7" x2="280.68" y2="306.37" stroke-width="2.0"/>
<text x="282.5" y="306.58" font-size="11.4" text-anchor="end">TsMeN</text>
<line x1="291.5" y1="330.4" x2="306.7" y2="332.9" stroke-width="2.0"/>
<line x1="306.7" y1="332.9" x2="314.1" y2="347.8" stroke-width="2.0"/>
<line x1="304.53" y1="336.39" x2="310" y2="347.42" stroke-width="2.0"/>
<line x1="314.1" y1="347.8" x2="305.1" y2="359.6" stroke-width="2.0"/>
<line x1="305.1" y1="359.6" x2="288.1" y2="359.5" stroke-width="2.0"/>
<polygon points="304.81,359.67 305.39,359.53 309.25,369.07 305.35,369.93"/>
<text x="313.9" y="378.94" font-size="11" text-anchor="middle">OH</text>
<text x="242.3" y="384.64" font-size="11" text-anchor="middle">O</text>
<line x1="246.61" y1="364.72" x2="243.5" y2="376.26" stroke-width="2.0"/>
<line x1="245.69" y1="383.81" x2="254.7" y2="392.1" stroke-width="2.0"/>
<path d="M275.12,396.05 L273.33,396.05 L273.33,389.55 L271.12,390.75 L271.12,389.03 L272.77,388.02 L273.69,386.75 L275.12,386.75Z" stroke-width="0.5"/>
<text x="277.2" y="396.05" font-size="13" font-weight="bold" class="b">4</text>
<line x1="321.8" y1="352" x2="383.2" y2="352" stroke-width="1.8"/>
<polygon stroke-width="0.6" points="395.2,352 381.2,348.2 382.4,352 381.2,355.8"/>
<text x="355.7" y="330.08" font-size="11.4" text-anchor="middle">DMP</text>
<text x="355.2" y="343.44" font-size="11" text-anchor="middle">then NaBH<tspan font-size="8.6" dy="1.8">4</tspan></text>
<line x1="416.49" y1="332.94" x2="428.42" y2="343.46" stroke-width="2.0"/>
<line x1="415.73" y1="336.94" x2="424.55" y2="344.72" stroke-width="2.0"/>
<line x1="428.42" y1="343.46" x2="425.28" y2="359.04" stroke-width="2.0"/>
<line x1="425.28" y1="359.04" x2="410.21" y2="364.12" stroke-width="2.0"/>
<line x1="422.2" y1="356.39" x2="411.05" y2="360.14" stroke-width="2.0"/>
<line x1="410.21" y1="364.12" x2="398.28" y2="353.6" stroke-width="2.0"/>
<line x1="398.28" y1="353.6" x2="401.42" y2="338.02" stroke-width="2.0"/>
<line x1="402.12" y1="352.27" x2="404.45" y2="340.73" stroke-width="2.0"/>
<line x1="401.42" y1="338.02" x2="416.49" y2="332.94" stroke-width="2.0"/>
<line x1="416.49" y1="332.94" x2="423.9" y2="318.9" stroke-width="2.0"/>
<line x1="423.9" y1="318.9" x2="441.3" y2="318.8" stroke-width="2.0"/>
<line x1="426.18" y1="322.39" x2="439.06" y2="322.31" stroke-width="2.0"/>
<line x1="441.3" y1="318.8" x2="455.1" y2="329.8" stroke-width="2.0"/>
<line x1="445.3" y1="343.1" x2="428.42" y2="343.46" stroke-width="2.0"/>
<line x1="445.3" y1="343.1" x2="455.1" y2="329.8" stroke-width="2.0"/>
<line x1="445.3" y1="343.1" x2="451.7" y2="358.9" stroke-width="2.0"/>
<text x="439.1" y="372.44" font-size="11" text-anchor="middle">O</text>
<line x1="425.28" y1="359.04" x2="435.3" y2="365.9" stroke-width="2.0"/>
<polygon points="451.53,358.67 451.87,359.13 443.27,367.71 440.97,364.69"/>
<polygon points="455.37,329.92 454.83,329.68 456.68,321.47 460.32,323.13"/>
<text x="461.6" y="319.64" font-size="11" text-anchor="middle">H</text>
<polygon points="445.53,342.99 445.07,343.21 438.28,332.75 441.32,331.25"/>
<line x1="439.8" y1="332" x2="450.9" y2="316.1" stroke-width="2.0"/>
<line x1="450.9" y1="316.1" x2="443.76" y2="305.42" stroke-width="2.0"/>
<text x="445.5" y="305.68" font-size="11.4" text-anchor="end">TsMeN</text>
<line x1="455.1" y1="329.8" x2="470.3" y2="332.3" stroke-width="2.0"/>
<line x1="470.3" y1="332.3" x2="477.7" y2="347.2" stroke-width="2.0"/>
<line x1="468.13" y1="335.79" x2="473.6" y2="346.82" stroke-width="2.0"/>
<line x1="477.7" y1="347.2" x2="468.7" y2="359" stroke-width="2.0"/>
<line x1="468.7" y1="359" x2="451.7" y2="358.9" stroke-width="2.0"/>
<polygon points="468.41,359.07 468.99,358.93 472.85,368.47 468.95,369.33"/>
<text x="477.5" y="378.34" font-size="11" text-anchor="middle">OH</text>
<text x="405.9" y="384.04" font-size="11" text-anchor="middle">O</text>
<line x1="410.21" y1="364.12" x2="407.1" y2="375.66" stroke-width="2.0"/>
<line x1="409.29" y1="383.21" x2="418.3" y2="391.5" stroke-width="2.0"/>
<path d="M436.62,395.55 L434.83,395.55 L434.83,389.05 L432.62,390.25 L432.62,388.53 L434.27,387.52 L435.19,386.25 L436.62,386.25Z" stroke-width="0.5"/>
<text x="438.7" y="395.55" font-size="13" font-weight="bold" class="b">5</text>
<line x1="490.1" y1="350.8" x2="532" y2="350.8" stroke-width="1.8"/>
<polygon stroke-width="0.6" points="544,350.8 530,347 531.2,350.8 530,354.6"/>
<text x="515.2" y="343.54" font-size="11" text-anchor="middle">M</text>
<line x1="572.59" y1="335.84" x2="584.52" y2="346.36" stroke-width="2.0"/>
<line x1="571.83" y1="339.84" x2="580.65" y2="347.62" stroke-width="2.0"/>
<line x1="584.52" y1="346.36" x2="581.38" y2="361.94" stroke-width="2.0"/>
<line x1="581.38" y1="361.94" x2="566.31" y2="367.02" stroke-width="2.0"/>
<line x1="578.3" y1="359.29" x2="567.15" y2="363.04" stroke-width="2.0"/>
<line x1="566.31" y1="367.02" x2="554.38" y2="356.5" stroke-width="2.0"/>
<line x1="554.38" y1="356.5" x2="557.52" y2="340.92" stroke-width="2.0"/>
<line x1="558.22" y1="355.17" x2="560.55" y2="343.63" stroke-width="2.0"/>
<line x1="557.52" y1="340.92" x2="572.59" y2="335.84" stroke-width="2.0"/>
<line x1="572.59" y1="335.84" x2="579.5" y2="321.8" stroke-width="2.0"/>
<line x1="579.5" y1="321.8" x2="596.9" y2="321.7" stroke-width="2.0"/>
<line x1="596.9" y1="321.7" x2="610.7" y2="332.7" stroke-width="2.0"/>
<line x1="600.9" y1="346" x2="584.52" y2="346.36" stroke-width="2.0"/>
<line x1="600.9" y1="346" x2="610.7" y2="332.7" stroke-width="2.0"/>
<line x1="600.9" y1="346" x2="607.3" y2="361.8" stroke-width="2.0"/>
<text x="594.7" y="375.34" font-size="11" text-anchor="middle">O</text>
<line x1="581.38" y1="361.94" x2="590.95" y2="368.74" stroke-width="2.0"/>
<polygon points="607.13,361.57 607.47,362.03 598.87,370.61 596.57,367.59"/>
<polygon points="610.97,332.82 610.43,332.58 612.28,324.37 615.92,326.03"/>
<text x="617.2" y="322.54" font-size="11" text-anchor="middle">H</text>
<polygon points="601.13,345.89 600.67,346.11 593.88,335.65 596.92,334.15"/>
<line x1="595.4" y1="334.9" x2="606.5" y2="319" stroke-width="2.0"/>
<line x1="606.5" y1="319" x2="600.23" y2="308.36" stroke-width="2.0"/>
<polygon points="597.2,321.72 596.6,321.68 595.6,309.48 599.6,309.71"/>
<text x="597.9" y="308.34" font-size="11" text-anchor="middle">N</text>
<line x1="596.04" y1="299.54" x2="592.3" y2="289.8" stroke-width="2.0"/>
<line x1="610.7" y1="332.7" x2="625.9" y2="335.2" stroke-width="2.0"/>
<line x1="625.9" y1="335.2" x2="633.3" y2="350.1" stroke-width="2.0"/>
<line x1="623.73" y1="338.69" x2="629.2" y2="349.72" stroke-width="2.0"/>
<line x1="633.3" y1="350.1" x2="624.3" y2="361.9" stroke-width="2.0"/>
<line x1="624.3" y1="361.9" x2="607.3" y2="361.8" stroke-width="2.0"/>
<polygon points="624.01,361.97 624.59,361.83 628.45,371.37 624.55,372.23"/>
<text x="633.1" y="381.24" font-size="11" text-anchor="middle">OH</text>
<text x="561.5" y="386.94" font-size="11" text-anchor="middle">O</text>
<line x1="566.31" y1="367.02" x2="562.82" y2="378.59" stroke-width="2.0"/>
<line x1="564.89" y1="386.11" x2="573.9" y2="394.4" stroke-width="2.0"/>
<path d="M593.02,394.05 L591.23,394.05 L591.23,387.55 L589.02,388.75 L589.02,387.03 L590.67,386.02 L591.59,384.75 L593.02,384.75Z" stroke-width="0.5"/>
<text x="595.1" y="394.05" font-size="13" font-weight="bold" class="b">6</text>
<text x="595.6" y="411.01" font-size="11.2" font-weight="bold" class="b" text-anchor="middle">(–)- Codeine</text>
<line x1="650.8" y1="354.1" x2="689" y2="354.1" stroke-width="1.8"/>
<polygon stroke-width="0.6" points="701,354.1 687,350.3 688.2,354.1 687,357.9"/>
<text x="672.4" y="348.04" font-size="11" text-anchor="middle">BBr<tspan font-size="8.6" dy="1.8">3</tspan></text>
<line x1="730.49" y1="339.94" x2="742.42" y2="350.46" stroke-width="2.0"/>
<line x1="729.73" y1="343.94" x2="738.55" y2="351.72" stroke-width="2.0"/>
<line x1="742.42" y1="350.46" x2="739.28" y2="366.04" stroke-width="2.0"/>
<line x1="739.28" y1="366.04" x2="724.21" y2="371.12" stroke-width="2.0"/>
<line x1="736.2" y1="363.39" x2="725.05" y2="367.14" stroke-width="2.0"/>
<line x1="724.21" y1="371.12" x2="712.28" y2="360.6" stroke-width="2.0"/>
<line x1="712.28" y1="360.6" x2="715.42" y2="345.02" stroke-width="2.0"/>
<line x1="716.12" y1="359.27" x2="718.45" y2="347.73" stroke-width="2.0"/>
<line x1="715.42" y1="345.02" x2="730.49" y2="339.94" stroke-width="2.0"/>
<line x1="730.49" y1="339.94" x2="737" y2="325.4" stroke-width="2.0"/>
<line x1="737" y1="325.4" x2="754.4" y2="325.3" stroke-width="2.0"/>
<line x1="754.4" y1="325.3" x2="768.2" y2="336.3" stroke-width="2.0"/>
<line x1="758.4" y1="349.6" x2="742.42" y2="350.46" stroke-width="2.0"/>
<line x1="758.4" y1="349.6" x2="768.2" y2="336.3" stroke-width="2.0"/>
<line x1="758.4" y1="349.6" x2="764.8" y2="365.4" stroke-width="2.0"/>
<text x="752.2" y="378.94" font-size="11" text-anchor="middle">O</text>
<line x1="739.28" y1="366.04" x2="748.42" y2="372.38" stroke-width="2.0"/>
<polygon points="764.63,365.17 764.97,365.63 756.37,374.21 754.07,371.19"/>
<polygon points="768.47,336.42 767.93,336.18 769.78,327.97 773.42,329.63"/>
<text x="774.7" y="326.14" font-size="11" text-anchor="middle">H</text>
<polygon points="758.63,349.49 758.17,349.71 751.38,339.25 754.42,337.75"/>
<line x1="752.9" y1="338.5" x2="764" y2="322.6" stroke-width="2.0"/>
<line x1="764" y1="322.6" x2="757.75" y2="313.23" stroke-width="2.0"/>
<polygon points="754.7,325.32 754.1,325.28 752.94,314.49 756.94,314.69"/>
<text x="755.2" y="313.34" font-size="11" text-anchor="middle">N</text>
<line x1="753.54" y1="304.47" x2="749.8" y2="293.4" stroke-width="2.0"/>
<line x1="768.2" y1="336.3" x2="783.4" y2="338.8" stroke-width="2.0"/>
<line x1="783.4" y1="338.8" x2="790.8" y2="353.7" stroke-width="2.0"/>
<line x1="781.23" y1="342.29" x2="786.7" y2="353.32" stroke-width="2.0"/>
<line x1="790.8" y1="353.7" x2="781.8" y2="365.5" stroke-width="2.0"/>
<line x1="781.8" y1="365.5" x2="764.8" y2="365.4" stroke-width="2.0"/>
<polygon points="781.51,365.57 782.09,365.43 785.95,374.97 782.05,375.83"/>
<text x="790.3" y="385.04" font-size="11" text-anchor="middle">OH</text>
<text x="715.1" y="391.34" font-size="11" text-anchor="middle">HO</text>
<line x1="724.21" y1="371.12" x2="720.4" y2="383.02" stroke-width="2.0"/>
<path d="M750.32,395.25 L748.53,395.25 L748.53,388.75 L746.32,389.95 L746.32,388.23 L747.97,387.22 L748.89,385.95 L750.32,385.95Z" stroke-width="0.5"/>
<text x="752.4" y="395.25" font-size="13" font-weight="bold" class="b">7</text>
<text x="751" y="411.61" font-size="11.2" font-weight="bold" class="b" text-anchor="middle">(–)-Morphine</text>
<circle cx="791.2" cy="427.4" r="1.7" fill="none" stroke-width="1.1"/>
</g>
</svg>
</body></html>
